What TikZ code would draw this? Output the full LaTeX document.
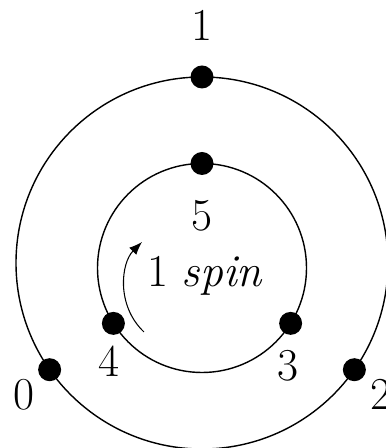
\documentclass[tikz,border=0pt]{standalone}
\usepackage{fontspec}
\usetikzlibrary{arrows.meta,positioning}

\begin{document}
\begin{tikzpicture}[
    ring/.style={draw, line width=0.8pt},
    dot/.style={circle, fill, inner sep=0pt, minimum size=0.46cm},
    num/.style={font=\fontsize{26}{30}\selectfont},
    arrow/.style={-{Latex[length=2.6mm, width=2mm]}, line width=0.6pt}
]
\useasboundingbox (-4.04,-3.70) rectangle (3.66,5.26);
\coordinate (outer) at (0,0);
\coordinate (inner) at (0,-0.1);
\draw[ring] (outer) circle (3.72);
\draw[ring] (inner) circle (2.09);
% outer ring
\node[dot] (o1) at (90:3.72) {};
\node[dot] (o0) at (215:3.72) {};
\node[dot] (o2) at (325:3.72) {};
% inner ring
\node[dot] (i5) at ([shift={(90:2.09)}]inner) {};
\node[dot] (i4) at ([shift={(212:2.09)}]inner) {};
\node[dot] (i3) at ([shift={(328:2.09)}]inner) {};
\node[num] (l1) at ([yshift=1.04cm]o1) {1};
\node[num] (l0) at ([shift={(-0.52,-0.50)}]o0) {0};
\node[num] (l2) at ([shift={(0.54,-0.50)}]o2) {2};
\node[num] (l5) at ([yshift=-1.04cm]i5) {5};
\node[num] (l4) at ([shift={(-0.08,-0.76)}]i4) {4};
\node[num] (l3) at ([shift={(-0.06,-0.84)}]i3) {3};
\node[num, anchor=base] (spin) at (0.06,-0.48) {1 \textit{spin}};
\coordinate (turn0) at (-1.16,-1.38);
\coordinate (turn1) at (-1.20,0.42);
\draw[arrow] (turn0) .. controls (-1.72,-0.85) and (-1.62,0.0) .. (turn1);
\end{tikzpicture}
\end{document}
